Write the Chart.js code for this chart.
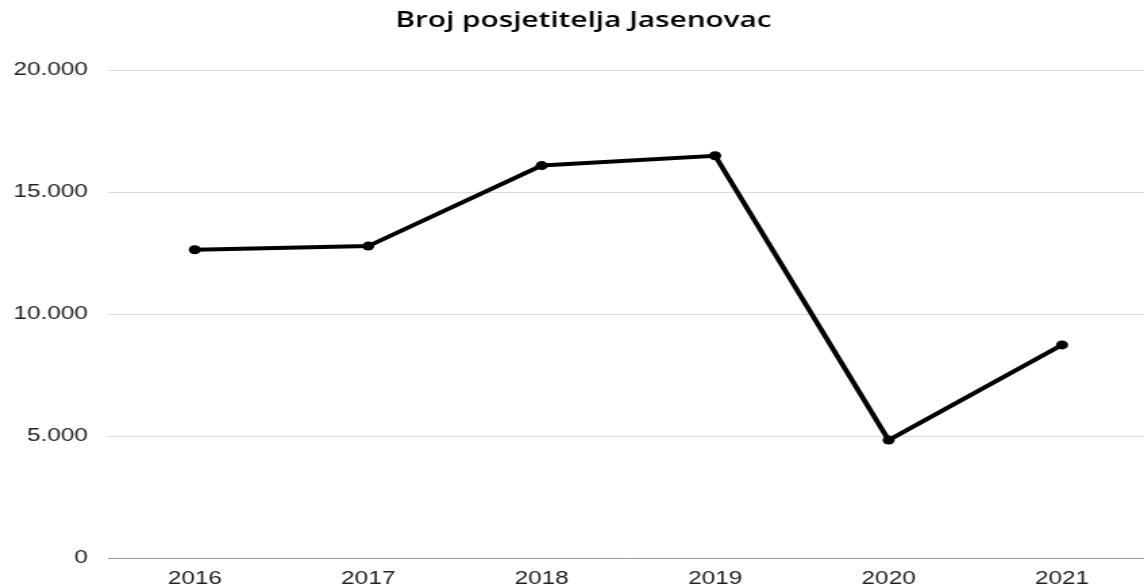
<!DOCTYPE html>
<html>
<head>
<meta charset="utf-8">
<script src="https://cdn.jsdelivr.net/npm/chart.js@4/dist/chart.umd.min.js"></script>
<style>
  html, body { margin: 0; padding: 0; background: #fff; overflow: hidden; }
  /* the reference is stretched sideways, so the chart is drawn narrower and scaled */
  #wrap { width: 855px; height: 588px; transform: scaleX(1.3507); transform-origin: 0 0; }
</style>
</head>
<body>
<div id="wrap"><canvas id="lineChart"></canvas></div>
<script>
const years = ["2016", "2017", "2018", "2019", "2020", "2021"];
const visitors = [12650, 12800, 16100, 16500, 4850, 8750];
const yTickLabels = ["0", "5.000", "10.000", "15.000", "20.000"];

const CHART = document.getElementById("lineChart");
let lineChart = new Chart(CHART, {
    type: 'line',
    data: {
        labels: years,
        datasets: [
            {
                label: "Broj posjetitelja",
                data: visitors,
                fill: false,
                tension: 0,
                borderColor: "#000",
                backgroundColor: "#000",
                borderWidth: 4,
                pointRadius: 4.5,
                pointBackgroundColor: "#000",
                pointBorderColor: "#000",
                pointBorderWidth: 0
            }
        ]
    },
    options: {
        responsive: true,
        maintainAspectRatio: false,
        animation: false,
        layout: { padding: { left: 9, right: 0, top: 8, bottom: -12 } },
        plugins: {
            legend: { display: false },
            tooltip: { enabled: false },
            title: {
                display: true,
                text: "Broj posjetitelja Jasenovac",
                color: "#000",
                font: { family: "'Open Sans'", size: 22, weight: '600' },
                padding: { top: 0, bottom: 36 }
            }
        },
        scales: {
            x: {
                offset: true,
                grid: { display: false, drawTicks: false },
                border: { display: true, color: "#9a9a9a", width: 1 },
                ticks: {
                    color: "#222",
                    padding: 10,
                    font: { family: "'Liberation Sans'", size: 18 }
                }
            },
            y: {
                min: 0,
                max: 20000,
                afterFit: (scale) => { scale.width = 71; },
                grid: {
                    color: "#dcdcdc",
                    lineWidth: 1,
                    drawTicks: false
                },
                border: { display: false },
                ticks: {
                    stepSize: 5000,
                    color: "#222",
                    padding: 15,
                    font: { family: "'Liberation Sans'", size: 18 },
                    callback: (v, i) => yTickLabels[i]
                }
            }
        }
    }
});
</script>
</body>
</html>
